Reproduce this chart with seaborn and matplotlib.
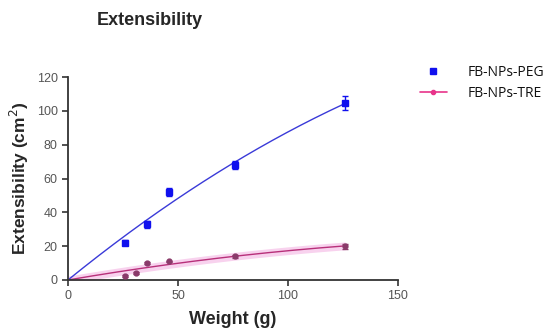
import matplotlib.pyplot as plt
import numpy as np
import pandas as pd
import seaborn as sns
from matplotlib.lines import Line2D

# values
peg_weight = [26, 36, 46, 76, 126]
peg_ext = [22, 33, 52, 68, 104.5]
peg_err = [1.5, 2.0, 2.5, 2.5, 4.0]

tre_weight = [26, 31, 36, 46, 76, 126]
tre_ext = [2.5, 4, 10, 11, 14, 20]
tre_err = [0.5, 0.5, 0.5, 0.5, 0.8, 1.5]

x_ticks = [0, 50, 100, 150]
y_ticks = [0, 20, 40, 60, 80, 100, 120]

PEG_COLOR = "#1010ee"
PEG_LINE = "#3a3ad8"
TRE_COLOR = "#8a3a6a"
TRE_LINE = "#b8307a"
TRE_LEGEND = "#e8338a"


def fit_through_origin(x, y):
    """Least-squares quadratic y = a*x + b*x^2 through origin."""
    x = np.asarray(x, float)
    A = np.column_stack([x, x**2])
    coef, *_ = np.linalg.lstsq(A, np.asarray(y, float), rcond=None)
    return coef


sns.set_style("ticks")
plt.rcParams["font.family"] = ["Liberation Sans", "DejaVu Sans"]

fig = plt.figure(figsize=(5.5, 3.36), dpi=100)
ax = fig.add_axes([0.1236, 0.1667, 0.60, 0.604])

xs = np.linspace(0, 126, 200)
fits = []
for wx, wy in [(peg_weight, peg_ext), (tre_weight, tre_ext)]:
    a, b = fit_through_origin(wx, wy)
    fits.append(a * xs + b * xs**2)

df_fit = pd.DataFrame({
    "Weight": np.concatenate([xs, xs]),
    "Ext": np.concatenate(fits),
    "Series": ["FB-NPs-PEG"] * len(xs) + ["FB-NPs-TRE"] * len(xs),
})

# confidence band for TRE
ax.fill_between(xs, fits[1] - 2.3, fits[1] + 2.3, color="#f8d2ee", lw=0, zorder=1)

sns.lineplot(data=df_fit, x="Weight", y="Ext", hue="Series",
             palette={"FB-NPs-PEG": PEG_LINE, "FB-NPs-TRE": TRE_LINE},
             linewidth=1.0, legend=False, ax=ax, zorder=2)

ax.errorbar(peg_weight, peg_ext, yerr=peg_err, fmt="s", color=PEG_COLOR,
            ms=4.5, capsize=2.5, elinewidth=1, capthick=1, zorder=3)
ax.errorbar(tre_weight, tre_ext, yerr=tre_err, fmt="o", color=TRE_COLOR,
            ms=3.5, capsize=2.5, elinewidth=1, capthick=1, zorder=3)

ax.set_xlim(0, 150)
ax.set_ylim(0, 120)
ax.set_xticks(x_ticks)
ax.set_yticks(y_ticks)
ax.tick_params(colors="#333333", labelcolor="#555555", labelsize=9,
               width=1.2, length=4)
for s in ["left", "bottom"]:
    ax.spines[s].set_linewidth(1.3)
    ax.spines[s].set_color("#333333")
sns.despine(ax=ax)

ax.set_xlabel("Weight (g)", fontsize=13, fontweight="bold", labelpad=6)
ax.set_ylabel("Extensibility (cm$^2$)", fontsize=12.5, fontweight="bold", labelpad=4)
fig.text(0.273, 0.94, "Extensibility", fontsize=13, fontweight="bold",
         ha="center", va="center")

handles = [
    Line2D([], [], marker="s", color=PEG_COLOR, ls="none", ms=4),
    Line2D([], [], marker="o", color=TRE_LEGEND, ls="-", lw=1.2, ms=3),
]
fig.legend(handles, ["FB-NPs-PEG", "FB-NPs-TRE"], loc="upper left",
           bbox_to_anchor=(0.74, 0.845), frameon=False, handlelength=2.0,
           handletextpad=1.5, labelspacing=0.45, labelcolor="#111111",
           prop={"family": "Open Sans", "size": 10})

fig.savefig("out.png", dpi=100)
plt.close(fig)
